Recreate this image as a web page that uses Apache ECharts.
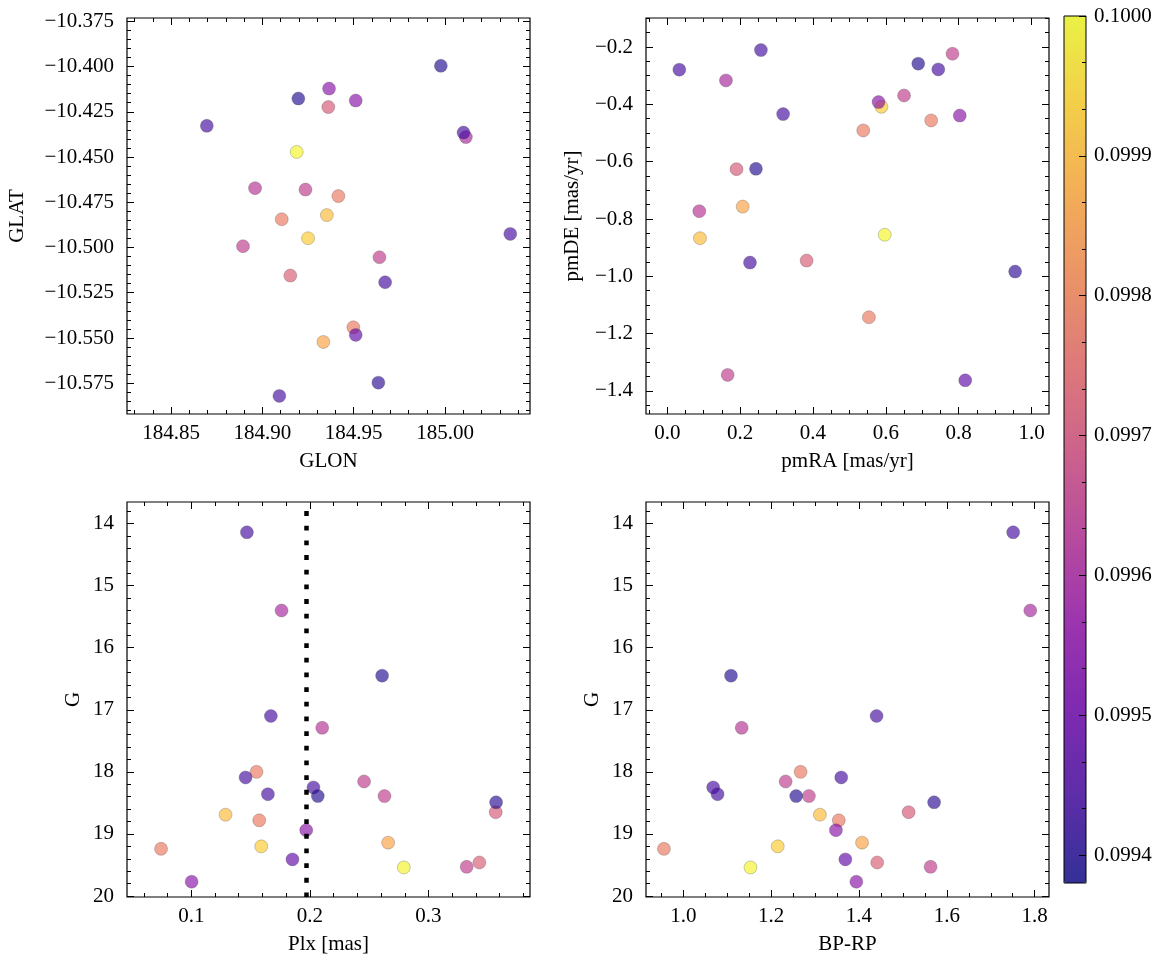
<!DOCTYPE html>
<html><head><meta charset="utf-8">
<script src="https://cdn.jsdelivr.net/npm/echarts@6/dist/echarts.min.js"></script>
<style>html,body{margin:0;padding:0;background:#fff}#c{width:1166px;height:965px}</style>
</head><body><div id="c"></div>
<script>
// ---- data (one entry per star) ----
const GLON = [184.9188,184.925,184.9353,184.9334,184.9416,184.9106,184.9498,184.9361,184.9153,184.9236,184.8894,184.9641,184.896,185.0114,184.9365,184.9511,184.9511,184.8696,185.0101,185.0357,184.9672,184.9093,184.9977,184.9197,184.9635];
const GLAT = [-10.4472,-10.4949,-10.4821,-10.5522,-10.4716,-10.4844,-10.5441,-10.4224,-10.5155,-10.468,-10.4993,-10.5054,-10.4672,-10.4390,-10.4122,-10.4188,-10.5483,-10.4328,-10.4365,-10.4925,-10.5192,-10.582,-10.3996,-10.4177,-10.5747];
const pmRA = [0.597,0.588,0.0897,0.207,0.7245,0.538,0.5535,0.190,0.3825,0.783,0.650,0.1657,0.0878,0.161,0.580,0.803,0.818,0.033,0.257,0.318,0.744,0.227,0.689,0.2434,0.955];
const pmDE = [-0.855,-0.4085,-0.867,-0.7566,-0.456,-0.491,-1.1428,-0.626,-0.945,-0.2234,-0.369,-1.344,-0.7727,-0.3166,-0.392,-0.439,-1.3627,-0.279,-0.2105,-0.434,-0.278,-0.952,-0.258,-0.625,-0.9835];
const Plx  = [0.2792,0.159,0.1289,0.266,0.155,0.1573,0.0745,0.3567,0.3429,0.2457,0.2629,0.3322,0.2104,0.1761,0.1969,0.1003,0.1853,0.1469,0.1671,0.1458,0.203,0.1646,0.2609,0.2067,0.357];
const BPRP = [1.153,1.215,1.311,1.407,1.267,1.354,0.956,1.513,1.4415,1.233,1.286,1.563,1.133,1.790,1.3475,1.394,1.369,1.751,1.440,1.3596,1.068,1.078,1.1086,1.257,1.571];
const Gmag = [19.54,19.20,18.69,19.14,18.00,18.78,19.24,18.65,19.46,18.155,18.39,19.53,17.29,15.40,18.94,19.77,19.41,14.14,17.10,18.09,18.25,18.36,16.45,18.39,18.49];
const colorVal = [0.09999,0.09993,0.09990,0.09986,0.09978,0.09978,0.09978,0.09971,0.09972,0.09965,0.09965,0.09965,0.09963,0.09960,0.09955,0.09955,0.09948,0.09944,0.09944,0.09944,0.09944,0.09944,0.09940,0.09940,0.09941];
const plxLine = 0.197;

// ---- axis ranges and tick labels ----
const glonRange = [184.8259, 185.0465];
const glatRange = [-10.5920, -10.3732];
const pmraRange = [-0.0585, 1.048];
const pmdeRange = [-1.4803, -0.0987];
const plxRange  = [0.0458, 0.3856];
const gRange    = [13.652, 20.016];
const bprpRange = [0.9151, 1.8326];
const cbRange   = [0.09938, 0.1000];

const glonTicks = [184.85, 184.90, 184.95, 185.00];
const glatTicks = [-10.575, -10.55, -10.525, -10.5, -10.475, -10.45, -10.425, -10.4, -10.375];
const pmraTicks = [0.0, 0.2, 0.4, 0.6, 0.8, 1.0];
const pmdeTicks = [-1.4, -1.2, -1.0, -0.8, -0.6, -0.4, -0.2];
const plxTicks  = [0.1, 0.2, 0.3];
const gTicks    = [14, 15, 16, 17, 18, 19, 20];
const bprpTicks = [1.0, 1.2, 1.4, 1.6, 1.8];
const cbTicks   = [0.0994, 0.0995, 0.0996, 0.0997, 0.0998, 0.0999, 0.1000];

const plasma = ['rgba(13,8,135,0.8)','rgba(65,4,157,0.8)','rgba(106,0,168,0.8)','rgba(143,13,164,0.8)','rgba(177,42,144,0.8)','rgba(204,71,120,0.8)','rgba(225,100,98,0.8)','rgba(242,132,75,0.8)','rgba(252,166,54,0.8)','rgba(252,206,37,0.8)','rgba(240,249,33,0.8)'];

// ---- helpers ----
const FONT = 'Liberation Serif';
const FS = 21;
const fmt = n => v => v.toFixed(n).replace('-', '\u2212');
function steps(a, b, s) { const out = []; for (let k = 0; a + k * s <= b + s * 1e-6; k++) out.push(Math.round((a + k * s) * 1e8) / 1e8); return out; }

function makeAxes(gi, dim, range, major, minor, fmtFn, name, gap, inverse) {
  const pos = dim === 'x' ? ['bottom', 'top'] : ['left', 'right'];
  const base = { type: 'value', gridIndex: gi, min: range[0], max: range[1], inverse: !!inverse,
    axisLine: { show: false, onZero: false }, splitLine: { show: false }, minorTick: { show: false }, z: 5 };
  const tick = (vals, len) => ({ show: true, inside: true, length: len, customValues: vals, lineStyle: { color: '#000', width: 1 } });
  const main = Object.assign({}, base, { position: pos[0], axisTick: tick(major, 7),
    axisLabel: { show: true, customValues: major, formatter: fmtFn, fontFamily: FONT, fontSize: FS, color: '#000', margin: dim === 'x' ? 9 : 13 },
    name: name, nameLocation: 'middle', nameGap: gap, nameTextStyle: { fontFamily: FONT, fontSize: FS, color: '#000' } });
  return [main,
    Object.assign({}, base, { position: pos[0], axisTick: tick(minor, 4), axisLabel: { show: false } }),
    Object.assign({}, base, { position: pos[1], axisTick: tick(major, 7), axisLabel: { show: false } }),
    Object.assign({}, base, { position: pos[1], axisTick: tick(minor, 4), axisLabel: { show: false } })];
}

const grids = [
  { left: 127, top: 18, width: 403, height: 396 },
  { left: 646, top: 18, width: 403, height: 396 },
  { left: 127, top: 502, width: 403, height: 395 },
  { left: 646, top: 502, width: 403, height: 395 }
].map(g => Object.assign(g, { show: true, borderColor: '#000', borderWidth: 1.2, backgroundColor: 'transparent', containLabel: false }));
grids.push({ left: 1064, top: 16, width: 22, height: 867, show: true, borderColor: '#000', borderWidth: 1, backgroundColor: 'transparent', z: 10 });

const xAxes = [].concat(
  makeAxes(0, 'x', glonRange, glonTicks, steps(184.83, 185.04, 0.01), fmt(2), 'GLON', 37),
  makeAxes(1, 'x', pmraRange, pmraTicks, steps(-0.05, 1.0, 0.05), fmt(1), 'pmRA [mas/yr]', 37),
  makeAxes(2, 'x', plxRange, plxTicks, steps(0.06, 0.38, 0.02), fmt(1), 'Plx [mas]', 37),
  makeAxes(3, 'x', bprpRange, bprpTicks, steps(0.95, 1.8, 0.05), fmt(1), 'BP-RP', 37),
  [{ type: 'value', gridIndex: 4, min: 0, max: 1, show: false }]
);
const yAxes = [].concat(
  makeAxes(0, 'y', glatRange, glatTicks, steps(-10.59, -10.375, 0.005), fmt(3), 'GLAT', 99),
  makeAxes(1, 'y', pmdeRange, pmdeTicks, steps(-1.45, -0.1, 0.05), fmt(1), 'pmDE [mas/yr]', 63),
  makeAxes(2, 'y', gRange, gTicks, steps(13.8, 20.0, 0.2), fmt(0), 'G', 43, true),
  makeAxes(3, 'y', gRange, gTicks, steps(13.8, 20.0, 0.2), fmt(0), 'G', 43, true),
  [{ type: 'value', gridIndex: 4, position: 'right', min: cbRange[0], max: cbRange[1], z: 10,
     axisLine: { show: false, onZero: false }, splitLine: { show: false },
     axisTick: { show: true, inside: true, length: 7, customValues: cbTicks, lineStyle: { color: '#000', width: 1 } },
     axisLabel: { show: true, customValues: cbTicks, formatter: fmt(4), fontFamily: FONT, fontSize: FS, color: '#000', margin: 8 } },
   { type: 'value', gridIndex: 4, position: 'right', min: cbRange[0], max: cbRange[1], z: 10,
     axisLine: { show: false, onZero: false }, splitLine: { show: false },
     axisTick: { show: true, inside: true, length: 4, customValues: steps(0.09940, 0.1000, 0.0000333333).filter(v => v <= cbRange[1]), lineStyle: { color: '#000', width: 1 } },
     axisLabel: { show: false } }]
);

const idx = GLON.map((_, i) => i);
const pointStyle = { borderColor: 'rgba(60,60,60,0.55)', borderWidth: 0.6 };
function scatter(gi, xs, ys) {
  return { type: 'scatter', xAxisIndex: gi * 4, yAxisIndex: gi * 4, symbolSize: 13, itemStyle: pointStyle,
    data: idx.map(i => [xs[i], ys[i], colorVal[i]]) };
}
const s3 = scatter(2, Plx, Gmag);
s3.markLine = { silent: true, symbol: 'none', precision: 5, label: { show: false }, animation: false,
  lineStyle: { color: '#000', width: 4.5, type: [4.8, 9.87], dashOffset: 5.57, cap: 'butt' },
  data: [{ xAxis: plxLine }] };

const chart = echarts.init(document.getElementById('c'), null, { renderer: 'canvas' });
chart.setOption({
  animation: false,
  backgroundColor: '#fff',
  grid: grids,
  xAxis: xAxes,
  yAxis: yAxes,
  visualMap: { type: 'continuous', min: cbRange[0], max: cbRange[1], dimension: 2, seriesIndex: [0, 1, 2, 3],
    calculable: false, hoverLink: false, orient: 'vertical', left: 1064, top: 16, itemWidth: 22, itemHeight: 867,
    padding: 0, inRange: { color: plasma } },
  series: [scatter(0, GLON, GLAT), scatter(1, pmRA, pmDE), s3, scatter(3, BPRP, Gmag)]
});
</script>
</body></html>
